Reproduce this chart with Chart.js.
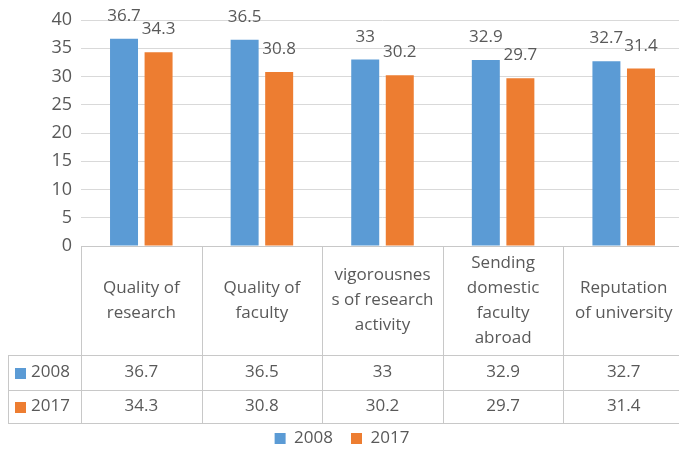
<!DOCTYPE html>
<html>
<head>
<meta charset="utf-8">
<script src="https://cdn.jsdelivr.net/npm/chart.js@4.4.1/dist/chart.umd.min.js"></script>
<style>
  html, body { margin: 0; padding: 0; background: #fff; overflow: hidden; }
  #wrap { position: relative; width: 688px; height: 453px; }
</style>
</head>
<body>
<div id="wrap"><canvas id="chart"></canvas></div>
<script>
// datos
const categories = [
    ['Quality of', 'research'],
    ['Quality of', 'faculty'],
    ['vigorousnes', 's of research', 'activity'],
    ['Sending', 'domestic', 'faculty', 'abroad'],
    ['Reputation', 'of university']
];
const seriesNames = ['2008', '2017'];
const values2008 = [36.7, 36.5, 33, 32.9, 32.7];
const values2017 = [34.3, 30.8, 30.2, 29.7, 31.4];
const yTicks = [0, 5, 10, 15, 20, 25, 30, 35, 40];

const colors = ['#5B9BD5', '#ED7D31'];
const textColor = '#595959';
const lineColor = '#c8c8c8';
const font = '"Open Sans", "Liberation Sans", sans-serif';
const fontSize = 17;

// alturas de la tabla de datos debajo del eje
const headerH = 109;
const rowH = [35, 33];
const tableLeft = 8;

const dataTable = {
    id: 'dataTable',
    afterDraw(chart) {
        const ctx = chart.ctx;
        const x = chart.scales.x;
        const area = chart.chartArea;
        const n = categories.length;
        const colW = (x.right - x.left) / n;
        const top = Math.round(area.bottom);
        const rowTop1 = top + headerH;
        const rowTop2 = rowTop1 + rowH[0];
        const bottom = rowTop2 + rowH[1];
        const right = x.right;

        ctx.save();
        ctx.strokeStyle = lineColor;
        ctx.lineWidth = 1;
        ctx.beginPath();
        // líneas horizontales
        ctx.moveTo(x.left, top + 0.5); ctx.lineTo(right, top + 0.5);
        [rowTop1, rowTop2, bottom].forEach(y => {
            ctx.moveTo(tableLeft, y + 0.5); ctx.lineTo(right, y + 0.5);
        });
        // líneas verticales
        for (let i = 0; i <= n; i++) {
            const cx = Math.round(x.left + i * colW) + 0.5;
            ctx.moveTo(cx, top); ctx.lineTo(cx, bottom);
        }
        ctx.moveTo(tableLeft + 0.5, rowTop1); ctx.lineTo(tableLeft + 0.5, bottom);
        ctx.stroke();

        ctx.fillStyle = textColor;
        ctx.font = fontSize + 'px ' + font;
        ctx.textAlign = 'center';
        ctx.textBaseline = 'middle';
        const lh = 25;
        categories.forEach((lines, i) => {
            const cx = x.left + (i + 0.5) * colW;
            const cy = top + headerH / 2;
            lines.forEach((t, j) => {
                ctx.fillText(t, cx, cy + (j - (lines.length - 1) / 2) * lh);
            });
        });

        const rows = [values2008, values2017];
        const rowTops = [rowTop1, rowTop2];
        rows.forEach((vals, r) => {
            const cy = rowTops[r] + rowH[r] / 2;
            ctx.fillStyle = textColor;
            ctx.textAlign = 'center';
            vals.forEach((v, i) => {
                ctx.fillText(String(v), x.left + (i + 0.5) * colW, cy);
            });
            ctx.fillStyle = colors[r];
            ctx.fillRect(15, Math.round(cy - 5), 11, 11);
            ctx.fillStyle = textColor;
            ctx.textAlign = 'left';
            ctx.fillText(seriesNames[r], 31, cy);
        });
        ctx.restore();
    }
};

const barLabels = {
    id: 'barLabels',
    afterDatasetsDraw(chart) {
        const ctx = chart.ctx;
        ctx.save();
        ctx.fillStyle = textColor;
        ctx.font = fontSize + 'px ' + font;
        ctx.textAlign = 'center';
        ctx.textBaseline = 'alphabetic';
        chart.data.datasets.forEach((ds, d) => {
            chart.getDatasetMeta(d).data.forEach((bar, i) => {
                ctx.fillText(String(ds.data[i]), bar.x, bar.y - 18);
            });
        });
        ctx.restore();
    }
};

new Chart(document.getElementById('chart'), {
    type: 'bar',
    data: {
        labels: categories,
        datasets: [
            { label: seriesNames[0], data: values2008, backgroundColor: colors[0], borderWidth: 0 },
            { label: seriesNames[1], data: values2017, backgroundColor: colors[1], borderWidth: 0 }
        ]
    },
    options: {
        responsive: true,
        maintainAspectRatio: false,
        animation: false,
        categoryPercentage: 0.573,
        barPercentage: 0.81,
        layout: { padding: { top: 20, left: 0, right: 4, bottom: -4 } },
        scales: {
            x: {
                grid: { display: false },
                border: { display: false },
                ticks: { display: false },
                afterFit: scale => { scale.height = 166; }
            },
            y: {
                min: 0,
                max: 40,
                afterBuildTicks: scale => { scale.ticks = yTicks.map(v => ({ value: v })); },
                grid: { color: '#d9d9d9', drawTicks: false },
                border: { display: false },
                ticks: { color: textColor, font: { family: font, size: 18 }, padding: 9 },
                afterFit: scale => { scale.width = 81; }
            }
        },
        plugins: {
            legend: {
                position: 'bottom',
                labels: {
                    color: textColor,
                    font: { family: font, size: fontSize },
                    boxWidth: 11,
                    boxHeight: 11,
                    padding: 18
                }
            },
            tooltip: { enabled: false }
        }
    },
    plugins: [barLabels, dataTable]
});
</script>
</body>
</html>
